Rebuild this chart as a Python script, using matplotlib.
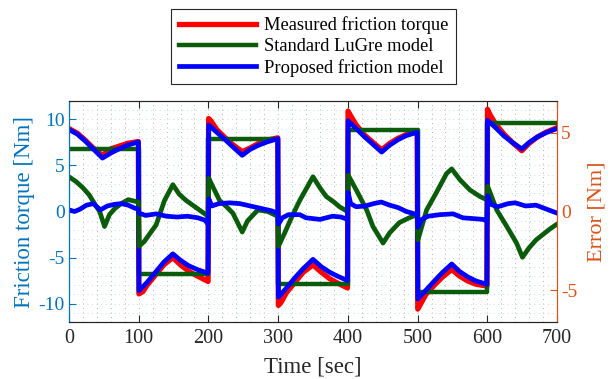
import numpy as np
import matplotlib.pyplot as plt
from matplotlib.ticker import MultipleLocator

plt.rcParams['font.family'] = ['Liberation Serif', 'DejaVu Serif']
plt.rcParams['axes.unicode_minus'] = False

# measured friction torque [Nm]
t_meas = [0, 12, 24, 36, 48, 60, 72, 84, 99.5,
          100.3, 106, 112, 124, 136, 149, 160, 172, 184, 199.5,
          200.3, 204, 212, 224, 236, 248.5, 260, 272, 284, 299.5,
          300.3, 304, 312, 324, 336, 350, 362, 374, 386, 399.5,
          400.3, 404, 412, 424, 436, 448.5, 460, 472, 484, 499.5,
          500.3, 504, 512, 524, 536, 549, 560, 572, 584, 599.5,
          600.3, 604, 612, 624, 636, 649.5, 660, 672, 684, 700]
tq_meas = [9.0, 8.5, 7.7, 6.8, 6.1, 6.8, 7.1, 7.4, 7.6,
           -8.95, -8.7, -8.0, -6.9, -5.8, -5.0, -5.8, -6.5, -7.0, -7.6,
           10.1, 9.8, 8.9, 8.0, 7.2, 6.5, 6.9, 7.4, 7.75, 8.0,
           -10.2, -9.9, -8.8, -7.7, -6.6, -5.8, -6.6, -7.3, -7.8, -8.3,
           10.9, 10.4, 9.4, 8.3, 7.5, 6.7, 7.4, 7.95, 8.35, 8.7,
           -10.6, -10.1, -9.0, -8.0, -7.1, -6.3, -7.0, -7.55, -7.9, -8.1,
           11.1, 10.5, 9.5, 8.4, 7.5, 6.6, 7.4, 8.1, 8.6, 9.1]

# proposed friction model [Nm]
t_prop = [0, 12, 24, 36, 48, 60, 72, 84, 99.5,
          100.3, 112, 124, 136, 149, 160, 172, 184, 199.5,
          200.3, 212, 224, 236, 248.5, 260, 272, 284, 299.5,
          300.3, 312, 324, 336, 350, 362, 374, 386, 399.5,
          400.3, 412, 424, 436, 448.5, 460, 472, 484, 499.5,
          500.3, 512, 524, 536, 549, 560, 572, 584, 599.5,
          600.3, 612, 624, 636, 649.5, 660, 672, 684, 700]
tq_prop = [8.9, 8.4, 7.6, 6.7, 5.8, 6.35, 6.8, 7.2, 7.55,
           -8.6, -7.7, -6.6, -5.5, -4.6, -5.3, -5.9, -6.3, -6.7,
           9.4, 8.6, 7.8, 6.95, 6.1, 6.75, 7.2, 7.55, 7.9,
           -9.3, -8.3, -7.2, -6.2, -5.2, -6.0, -6.6, -7.05, -7.5,
           9.85, 9.0, 8.1, 7.3, 6.45, 7.2, 7.8, 8.25, 8.6,
           -9.5, -8.55, -7.55, -6.6, -5.7, -6.5, -7.1, -7.55, -7.9,
           9.9, 9.1, 8.2, 7.5, 6.8, 7.5, 8.1, 8.55, 9.0]

# standard LuGre model: constant level per half period
t_lugre = [0, 100, 200, 300, 400, 500, 600, 700]
lugre_level = [6.8, -6.8, 7.9, -7.9, 8.8, -8.7, 9.6]

# error of the LuGre model [Nm]
t_err_lugre = [0, 10, 20, 29, 38, 44, 51, 58, 66, 75, 85, 99.5,
               100.5, 108, 116, 125, 137, 149, 158, 168, 187, 199.5,
               200.5, 206, 216, 226, 235, 248.5, 256, 271, 285, 299.5,
               300.5, 310, 320, 331, 350, 360, 369, 380, 388, 399.5,
               400.5, 412, 427, 436, 450.5, 460, 474, 488, 499.5,
               500.5, 513, 527, 541.5, 549, 561, 575, 589.5, 599.5,
               600.5, 613.5, 628, 642, 650.5, 660, 670, 680, 690, 700]
err_lugre = [2.2, 1.9, 1.5, 1.05, 0.4, 0.0, -0.95, -0.2, 0.2, 0.5, 0.75, 0.6,
             -2.2, -1.9, -1.4, -0.85, 0.7, 1.7, 1.1, 0.7, 0.1, -0.3,
             2.1, 1.6, 0.7, 0.3, -0.1, -1.3, -0.6, 0.1, 0.0, -0.3,
             -2.2, -1.3, -0.3, 0.7, 2.2, 1.5, 0.95, 0.6, 0.3, 0.0,
             2.3, 1.37, 0.1, -0.95, -2.0, -1.35, -0.7, -0.4, -0.2,
             -1.8, 0.1, 1.2, 2.4, 2.7, 2.0, 1.37, 0.95, 0.74,
             1.6, 0.1, -0.95, -2.0, -2.9, -2.3, -1.8, -1.45, -1.1, -0.8]

# error of the proposed model [Nm]
t_err_prop = [0, 8, 16, 25, 35, 45, 55, 65, 75, 85, 95, 99.5,
              100.5, 110, 125, 140, 155, 170, 185, 195, 199.5,
              200.5, 205, 215, 230, 245, 260, 275, 290, 299.5,
              300.5, 306, 315, 331, 340, 350, 360, 378, 390, 399.5,
              400.5, 404, 412, 425, 437, 448, 460, 472, 484, 499.5,
              500.5, 506, 515, 532, 551, 565, 580, 594, 599.5,
              600.5, 605, 615, 630, 640, 655, 670, 685, 700]
err_prop = [0.1, 0.0, 0.15, 0.4, 0.5, 0.1, 0.35, 0.45, 0.5, 0.4, 0.2, 0.15,
            -0.1, -0.25, -0.15, -0.3, -0.35, -0.3, -0.4, -0.55, -0.8,
            0.8, 0.35, 0.5, 0.55, 0.5, 0.35, 0.2, 0.05, -0.1,
            -0.8, -0.4, -0.2, -0.2, -0.4, -0.45, -0.5, -0.3, -0.35, -0.5,
            1.2, 0.5, 0.3, 0.35, 0.5, 0.6, 0.4, 0.25, 0.0, -0.2,
            -1.0, -0.5, -0.3, -0.2, -0.15, -0.4, -0.45, -0.5, -0.6,
            1.0, 0.45, 0.3, 0.5, 0.55, 0.35, 0.4, 0.15, -0.1]

c_left = '#0072BD'
c_right = '#D95319'
c_red = '#FF0000'
c_green = '#0A5C0A'
c_blue = '#0000FF'

fig = plt.figure(figsize=(6.1, 3.79), dpi=100)
ax = fig.add_axes([0.1131, 0.1504, 0.8, 0.5831])
ax2 = ax.twinx()

l1, = ax.plot(t_meas, tq_meas, color=c_red, lw=3.8, solid_joinstyle='round')
l2, = ax.plot(t_lugre, lugre_level + [lugre_level[-1]], color=c_green, lw=3.2,
              drawstyle='steps-post')
l3, = ax.plot(t_prop, tq_prop, color=c_blue, lw=3.4)

ax2.plot(t_err_lugre, err_lugre, color=c_green, lw=3.4)
ax2.plot(t_err_prop, err_prop, color=c_blue, lw=3.4)

ax.set_xlim(0, 700)
ax.set_ylim(-12, 12)
ax2.set_ylim(-7, 7)
ax.set_xticks(range(0, 701, 100))
ax.set_yticks([-10, -5, 0, 5, 10])
ax2.set_yticks([-5, 0, 5])
ax.xaxis.set_minor_locator(MultipleLocator(20))
ax.yaxis.set_minor_locator(MultipleLocator(1))

# dotted MATLAB-like grid, light
ax.grid(True, which='both', axis='x', color='#a8a8a8', lw=0.65, ls=(0, (1, 4)))
ax.grid(True, which='both', axis='y', color='#b6d8ec', lw=0.65, ls=(0, (1, 4)))
ax.set_axisbelow(True)

ax.tick_params(axis='x', which='major', direction='in', length=5, width=0.8,
               top=True, colors='#262626', labelsize=14.5, pad=5)
ax.tick_params(axis='x', which='minor', length=0)
ax.tick_params(axis='y', which='major', direction='in', length=5, width=0.8,
               colors=c_left, labelsize=14, pad=3)
ax.tick_params(axis='y', which='minor', length=0)
ax2.tick_params(axis='y', direction='in', length=5, width=0.8,
                colors=c_right, labelsize=14, pad=3)

for s in ['top', 'bottom']:
    ax2.spines[s].set_color('#262626')
    ax2.spines[s].set_linewidth(0.8)
ax2.spines['left'].set_color(c_left)
ax2.spines['right'].set_color(c_right)
ax.spines['left'].set_color(c_left)
ax.spines['right'].set_color(c_right)

ax.set_xlabel('Time [sec]', fontsize=16.5, color='#262626')
ax.xaxis.set_label_coords(0.5, -0.155)
ax.set_ylabel('Friction torque [Nm]', fontsize=16.5, color=c_left)
ax.yaxis.set_label_coords(-0.069, 0.5)
ax2.set_ylabel('Error [Nm]', fontsize=16, color=c_right)
ax2.yaxis.set_label_coords(1.062, 0.5)

leg = fig.legend([l1, l2, l3],
                 ['Measured friction torque', 'Standard LuGre model',
                  'Proposed friction model'],
                 loc='center', bbox_to_anchor=(0.514, 0.877), fontsize=13.3,
                 handlelength=4.2, handletextpad=0.4, labelspacing=0.2,
                 borderpad=0.4, fancybox=False, framealpha=1)
leg.get_frame().set_edgecolor('#262626')
leg.get_frame().set_linewidth(0.8)

fig.savefig('out.png', dpi=100)
